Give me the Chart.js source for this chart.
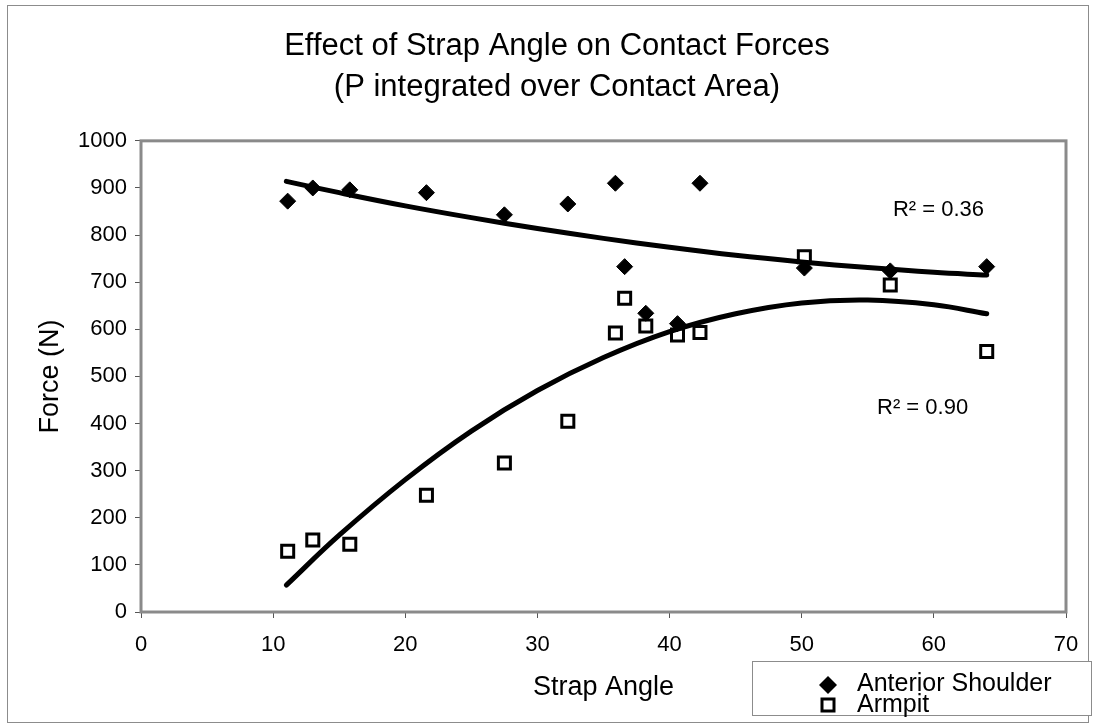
<!DOCTYPE html>
<html>
<head>
<meta charset="utf-8">
<title>Effect of Strap Angle on Contact Forces</title>
<script src="https://cdn.jsdelivr.net/npm/chart.js@4.4.1/dist/chart.umd.min.js"></script>
<style>
  html, body { margin: 0; padding: 0; background: #fff; }
  #chart { display: block; }
</style>
</head>
<body>
<canvas id="chart" width="1095" height="728"></canvas>
<script>
// measured points
const angles = [11.1, 13.0, 15.8, 21.6, 27.5, 32.3, 35.9, 36.6, 38.2, 40.6, 42.3, 50.2, 56.7, 64.0];
const shoulder = [872, 900, 896, 890, 843, 866, 910, 733, 634, 612, 910, 730, 724, 733];
const armpit = [129, 153, 144, 248, 316, 405, 592, 666, 607, 588, 593, 754, 694, 553];

// trend lines
const trendAngles = [11, 15, 20, 25, 30, 35, 40, 45, 50, 55, 60, 64];
const shoulderTrend = [914, 890, 862, 837, 814, 793, 774, 757, 743, 731, 721, 715];
const armpitTrend = [57, 163, 281, 384, 470, 540, 595, 633, 656, 662, 652, 633];

const seriesNames = ["Anterior Shoulder", "Armpit"];
const fitLabels = ["R\u00b2 = 0.36", "R\u00b2 = 0.90"];

const FONT = "'Liberation Sans', Arial, sans-serif";
Chart.defaults.font.family = FONT;
Chart.defaults.color = "#000";

function pts(xs, ys) {
    return xs.map((x, i) => ({ x: x, y: ys[i] }));
}

const decor = {
    id: "decor",
    beforeDraw(chart) {
        const ctx = chart.ctx;
        ctx.save();
        ctx.fillStyle = "#fff";
        ctx.fillRect(0, 0, chart.width, chart.height);
        ctx.strokeStyle = "#8c8c8c";
        ctx.lineWidth = 1;
        ctx.strokeRect(7.5, 5.5, 1081, 717);
        ctx.restore();
    },
    beforeDatasetsDraw(chart) {
        const { ctx, chartArea: a } = chart;
        ctx.save();
        ctx.strokeStyle = "#8a8a8a";
        ctx.lineWidth = 3;
        ctx.strokeRect(a.left, a.top, a.right - a.left, a.bottom - a.top);
        ctx.restore();
    },
    afterDraw(chart) {
        const ctx = chart.ctx;
        const x = chart.scales.x, y = chart.scales.y;
        ctx.save();
        // R squared labels
        ctx.fillStyle = "#000";
        ctx.font = "22px " + FONT;
        ctx.textBaseline = "middle";
        ctx.fillText(fitLabels[0], x.getPixelForValue(56.9), y.getPixelForValue(853));
        ctx.fillText(fitLabels[1], x.getPixelForValue(55.7), y.getPixelForValue(433));

        // legend box
        ctx.fillStyle = "#fff";
        ctx.fillRect(752, 661, 340, 55);
        ctx.strokeStyle = "#8c8c8c";
        ctx.lineWidth = 1;
        ctx.strokeRect(752.5, 661.5, 339, 54);

        ctx.fillStyle = "#000";
        ctx.beginPath();
        ctx.moveTo(819, 685);
        ctx.lineTo(828, 676);
        ctx.lineTo(837, 685);
        ctx.lineTo(828, 694);
        ctx.closePath();
        ctx.fill();

        ctx.strokeStyle = "#000";
        ctx.lineWidth = 3;
        ctx.strokeRect(822, 699, 12, 12);

        ctx.font = "25px " + FONT;
        ctx.fillText(seriesNames[0], 857, 684);
        ctx.fillText(seriesNames[1], 857, 705);
        ctx.restore();
    }
};

const ctx = document.getElementById("chart").getContext("2d");

new Chart(ctx, {
    type: "scatter",
    data: {
        datasets: [
            {
                label: seriesNames[0] + " trend",
                data: pts(trendAngles, shoulderTrend),
                showLine: true,
                borderColor: "#000",
                borderWidth: 5,
                borderCapStyle: "round",
                pointRadius: 0,
                tension: 0.4,
                order: 0
            },
            {
                label: seriesNames[1] + " trend",
                data: pts(trendAngles, armpitTrend),
                showLine: true,
                borderColor: "#000",
                borderWidth: 5,
                borderCapStyle: "round",
                pointRadius: 0,
                tension: 0.4,
                order: 0
            },
            {
                label: seriesNames[0],
                data: pts(angles, shoulder),
                pointStyle: "rectRot",
                pointRadius: 8,
                backgroundColor: "#000",
                borderColor: "#000",
                borderWidth: 1,
                order: 1
            },
            {
                label: seriesNames[1],
                data: pts(angles, armpit),
                pointStyle: "rect",
                pointRadius: 8.5,
                backgroundColor: "#fff",
                borderColor: "#000",
                borderWidth: 3,
                order: 1
            }
        ]
    },
    options: {
        responsive: false,
        animation: false,
        events: [],
        layout: { padding: { left: 19, right: 0, top: 0, bottom: 0 } },
        plugins: {
            legend: { display: false },
            tooltip: { enabled: false },
            title: {
                display: true,
                text: ["Effect of Strap Angle on Contact Forces", "(P integrated over Contact Area)"],
                color: "#000",
                font: { size: 31, weight: "normal", lineHeight: 1.32 },
                padding: { top: 26, bottom: 33 }
            }
        },
        scales: {
            x: {
                type: "linear",
                position: "bottom",
                min: 0,
                max: 70,
                ticks: { stepSize: 10, color: "#000", font: { size: 22 }, padding: 14, maxRotation: 0 },
                grid: { drawOnChartArea: false, tickLength: 6, color: "#555" },
                border: { display: false },
                title: { display: true, text: "Strap Angle", color: "#000", font: { size: 27 }, padding: { top: 0, bottom: 24 } },
                afterFit(s) { s.height = 116; }
            },
            y: {
                type: "linear",
                position: "left",
                min: 0,
                max: 1000,
                ticks: {
                    stepSize: 100,
                    color: "#000",
                    font: { size: 22 },
                    padding: 8,
                    callback: (v) => String(v)
                },
                grid: { drawOnChartArea: false, tickLength: 6, color: "#555" },
                border: { display: false },
                title: { display: true, text: "Force (N)", color: "#000", font: { size: 27 }, padding: { top: 15, bottom: 0 } },
                afterFit(s) { s.width = 122; }
            },
            y2: {
                position: "right",
                grid: { display: false },
                ticks: { display: false },
                border: { display: false },
                afterFit(s) { s.width = 29; }
            }
        }
    },
    plugins: [decor]
});
</script>
</body>
</html>
